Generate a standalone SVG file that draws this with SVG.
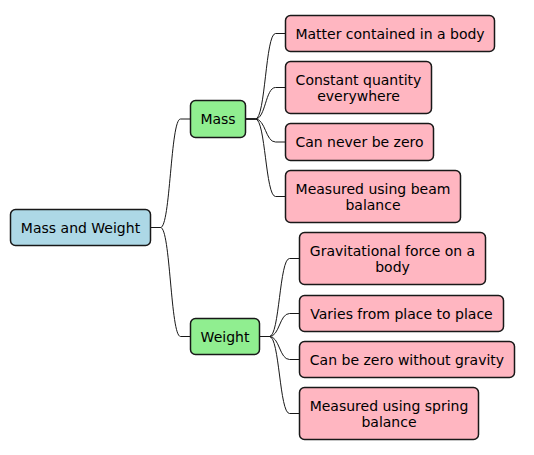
<svg xmlns="http://www.w3.org/2000/svg" width="534" height="455" viewBox="0 0 534 455">
<style>
rect{stroke:#181818;stroke-width:1.5}
.root{fill:#ADD8E6}
.mid{fill:#90EE90}
.leaf{fill:#FFB6C1}
text{font-family:"DejaVu Sans",sans-serif;font-size:14px;fill:#000;text-anchor:middle}
#connectors path{fill:none;stroke:#181818;stroke-width:1}
</style>
<rect width="534" height="455" fill="#fff" style="stroke:none"/>
<g id="connectors">
<path d="M150.5,227.5 L160.5,227.5 C170.5,227.5 170.5,119 180.5,119 L190.5,119"/>
<path d="M150.5,227.5 L160.5,227.5 C170.5,227.5 170.5,336.5 180.5,336.5 L190.5,336.5"/>
<path d="M245.5,119 L255.5,119 C265.5,119 265.5,33.5 275.5,33.5 L285.5,33.5"/>
<path d="M245.5,119 L255.5,119 C265.5,119 265.5,87.5 275.5,87.5 L285.5,87.5"/>
<path d="M245.5,119 L255.5,119 C265.5,119 265.5,142 275.5,142 L285.5,142"/>
<path d="M245.5,119 L255.5,119 C265.5,119 265.5,196.5 275.5,196.5 L285.5,196.5"/>
<path d="M259.5,336.5 L269.5,336.5 C279.5,336.5 279.5,258.5 289.5,258.5 L299.5,258.5"/>
<path d="M259.5,336.5 L269.5,336.5 C279.5,336.5 279.5,313.5 289.5,313.5 L299.5,313.5"/>
<path d="M259.5,336.5 L269.5,336.5 C279.5,336.5 279.5,359.5 289.5,359.5 L299.5,359.5"/>
<path d="M259.5,336.5 L269.5,336.5 C279.5,336.5 279.5,413.5 289.5,413.5 L299.5,413.5"/>
</g>
<g id="root"><rect class="root" x="10.5" y="209.5" width="140" height="36" rx="5"/><text x="80.5" y="232.5">Mass and Weight</text></g>
<g id="mass"><rect class="mid" x="190.5" y="100.5" width="55" height="37" rx="5"/><text x="218" y="124">Mass</text></g>
<g id="weight"><rect class="mid" x="190.5" y="318.5" width="69" height="36" rx="5"/><text x="225" y="341.5">Weight</text></g>
<g id="m1"><rect class="leaf" x="285.5" y="15.5" width="209" height="36" rx="5"/><text x="390" y="38.5">Matter contained in a body</text></g>
<g id="m2"><rect class="leaf" x="285.5" y="61.5" width="146" height="52" rx="5"/><text x="358.5" y="84.5">Constant quantity</text><text x="358.5" y="100.8">everywhere</text></g>
<g id="m3"><rect class="leaf" x="285.5" y="123.5" width="148" height="37" rx="5"/><text x="359.5" y="147">Can never be zero</text></g>
<g id="m4"><rect class="leaf" x="285.5" y="170.5" width="175" height="52" rx="5"/><text x="373" y="193.5">Measured using beam</text><text x="373" y="209.8">balance</text></g>
<g id="w1"><rect class="leaf" x="299.5" y="232.5" width="186" height="52" rx="5"/><text x="392.5" y="255.5">Gravitational force on a</text><text x="392.5" y="271.8">body</text></g>
<g id="w2"><rect class="leaf" x="299.5" y="295.5" width="204" height="36" rx="5"/><text x="401.5" y="318.5">Varies from place to place</text></g>
<g id="w3"><rect class="leaf" x="299.5" y="341.5" width="215" height="36" rx="5"/><text x="407" y="364.5">Can be zero without gravity</text></g>
<g id="w4"><rect class="leaf" x="299.5" y="387.5" width="179" height="52" rx="5"/><text x="389" y="410.5">Measured using spring</text><text x="389" y="426.8">balance</text></g>
</svg>
